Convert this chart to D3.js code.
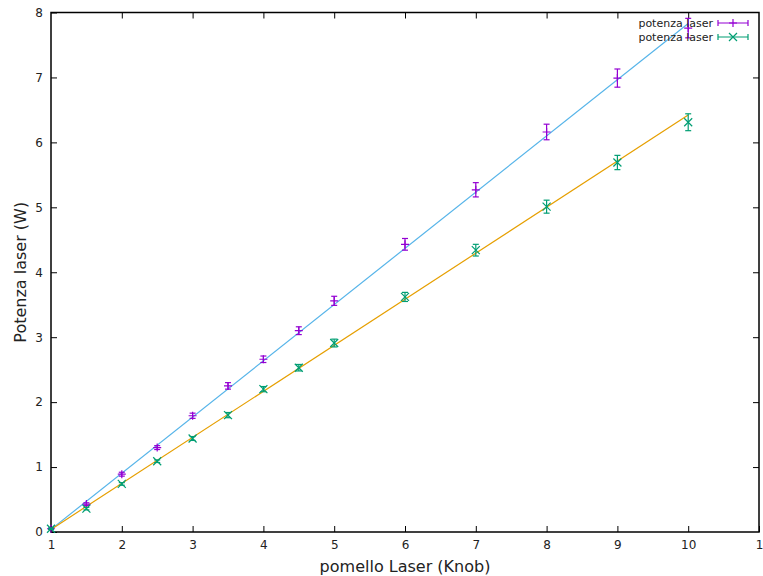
<!DOCTYPE html>
<html>
<head>
<meta charset="utf-8">
<script src="https://cdn.jsdelivr.net/npm/d3@7"></script>
<style>
  body { margin: 0; background: #fff; }
  svg { display: block; }
  text { font-family: "DejaVu Sans", sans-serif; fill: #222; }
</style>
</head>
<body>
<svg id="chart" width="763" height="576"></svg>
<script>
// Knob setting (pomello) vs. measured laser power
const knob = [1, 1.5, 2, 2.5, 3, 3.5, 4, 4.5, 5, 6, 7, 8, 9, 10];

// first series (violet, "+") with its uncertainties
const powerA = [0.05, 0.43, 0.89, 1.30, 1.79, 2.25, 2.66, 3.10, 3.56, 4.43, 5.27, 6.16, 6.99, 7.76];
const errA   = [0.01, 0.02, 0.03, 0.03, 0.04, 0.05, 0.05, 0.06, 0.07, 0.09, 0.11, 0.12, 0.14, 0.15];

// second series (green, "x") with its uncertainties
const powerB = [0.05, 0.36, 0.74, 1.09, 1.44, 1.80, 2.20, 2.53, 2.91, 3.62, 4.34, 5.01, 5.69, 6.31];
const errB   = [0.01, 0.02, 0.02, 0.02, 0.03, 0.04, 0.04, 0.05, 0.06, 0.07, 0.09, 0.10, 0.11, 0.13];

// linear fit endpoints
const fitA = [[1, 0.04], [10, 7.83]];
const fitB = [[1, 0.04], [10, 6.42]];

// axis ticks
const xTicks = [1, 2, 3, 4, 5, 6, 7, 8, 9, 10, 11];
const xTickLabels = ["1", "2", "3", "4", "5", "6", "7", "8", "9", "10", "1"];
const yTicks = [0, 1, 2, 3, 4, 5, 6, 7, 8];

const legendLabels = ["potenza laser", "potenza laser"];
const xTitle = "pomello Laser (Knob)";
const yTitle = "Potenza laser (W)";

const colA = "#9400d3", colB = "#009e73", fitColA = "#56b4e9", fitColB = "#e69f00";

const svg = d3.select("#chart");
const L = 51, R = 759, T = 12.5, B = 532;

const x = d3.scaleLinear().domain([1, 11]).range([L, R]);
const y = d3.scaleLinear().domain([0, 8]).range([B, T]);

// axes with inward ticks on all four sides
const tickLen = 6;
const axB = d3.axisBottom(x).tickValues(xTicks).tickSize(-tickLen).tickPadding(8)
  .tickFormat((d, i) => xTickLabels[i]);
const axT = d3.axisTop(x).tickValues(xTicks.slice(1, -1)).tickSize(-tickLen).tickFormat("");
const axL = d3.axisLeft(y).tickValues(yTicks).tickSize(-tickLen).tickPadding(8).tickFormat(d3.format("d"));
const axR = d3.axisRight(y).tickValues(yTicks.slice(1, -1)).tickSize(-tickLen).tickFormat("");

function styleAxis(g) {
  g.select(".domain").remove();
  g.selectAll(".tick line").attr("stroke", "#000").attr("stroke-width", 1);
  g.selectAll(".tick text").attr("font-size", 12).attr("fill", "#222")
    .style("font-family", "'DejaVu Sans', sans-serif");
}
svg.append("g").attr("transform", `translate(0,${B})`).call(axB).call(styleAxis);
svg.append("g").attr("transform", `translate(0,${T})`).call(axT).call(styleAxis);
svg.append("g").attr("transform", `translate(${L},0)`).call(axL).call(styleAxis);
svg.append("g").attr("transform", `translate(${R},0)`).call(axR).call(styleAxis);

// plot border
svg.append("rect").attr("x", L).attr("y", T).attr("width", R - L).attr("height", B - T)
  .attr("fill", "none").attr("stroke", "#000").attr("stroke-width", 1.5);

// fit lines
const line = d3.line().x(d => x(d[0])).y(d => y(d[1]));
svg.append("path").datum(fitA).attr("d", line).attr("stroke", fitColA).attr("stroke-width", 1.2).attr("fill", "none");
svg.append("path").datum(fitB).attr("d", line).attr("stroke", fitColB).attr("stroke-width", 1.2).attr("fill", "none");

// error bars and markers
function drawSeries(vals, errs, color, marker) {
  const g = svg.append("g").attr("stroke", color).attr("stroke-width", 1.2).attr("fill", "none");
  const cap = 3;
  knob.forEach((k, i) => {
    const cx = x(k), y1 = y(vals[i] - errs[i]), y2 = y(vals[i] + errs[i]), cy = y(vals[i]);
    g.append("line").attr("x1", cx).attr("x2", cx).attr("y1", y1).attr("y2", y2);
    g.append("line").attr("x1", cx - cap).attr("x2", cx + cap).attr("y1", y1).attr("y2", y1);
    g.append("line").attr("x1", cx - cap).attr("x2", cx + cap).attr("y1", y2).attr("y2", y2);
    marker(g, cx, cy);
  });
}
function plus(g, cx, cy) {
  const s = 4;
  g.append("path").attr("d", `M${cx - s},${cy}H${cx + s}M${cx},${cy - s}V${cy + s}`);
}
function cross(g, cx, cy) {
  const s = 4;
  g.append("path").attr("d", `M${cx - s},${cy - s}L${cx + s},${cy + s}M${cx - s},${cy + s}L${cx + s},${cy - s}`);
}
drawSeries(powerA, errA, colA, plus);
drawSeries(powerB, errB, colB, cross);

// legend
const legend = svg.append("g");
[[colA, plus], [colB, cross]].forEach(([c, m], i) => {
  const ly = 23 + i * 14;
  legend.append("text").attr("x", 713).attr("y", ly).attr("dy", "0.35em")
    .attr("text-anchor", "end").attr("font-size", 11).text(legendLabels[i]);
  const g = legend.append("g").attr("stroke", c).attr("stroke-width", 1.2).attr("fill", "none");
  g.append("path").attr("d", `M718,${ly}H748M718,${ly - 3}V${ly + 3}M748,${ly - 3}V${ly + 3}`);
  m(g, 733, ly);
});

// axis titles
svg.append("text").attr("x", (L + R) / 2).attr("y", 572).attr("text-anchor", "middle")
  .attr("font-size", 16).text(xTitle);
svg.append("text").attr("transform", `translate(26,${(T + B) / 2}) rotate(-90)`)
  .attr("text-anchor", "middle").attr("font-size", 16).text(yTitle);
</script>
</body>
</html>
